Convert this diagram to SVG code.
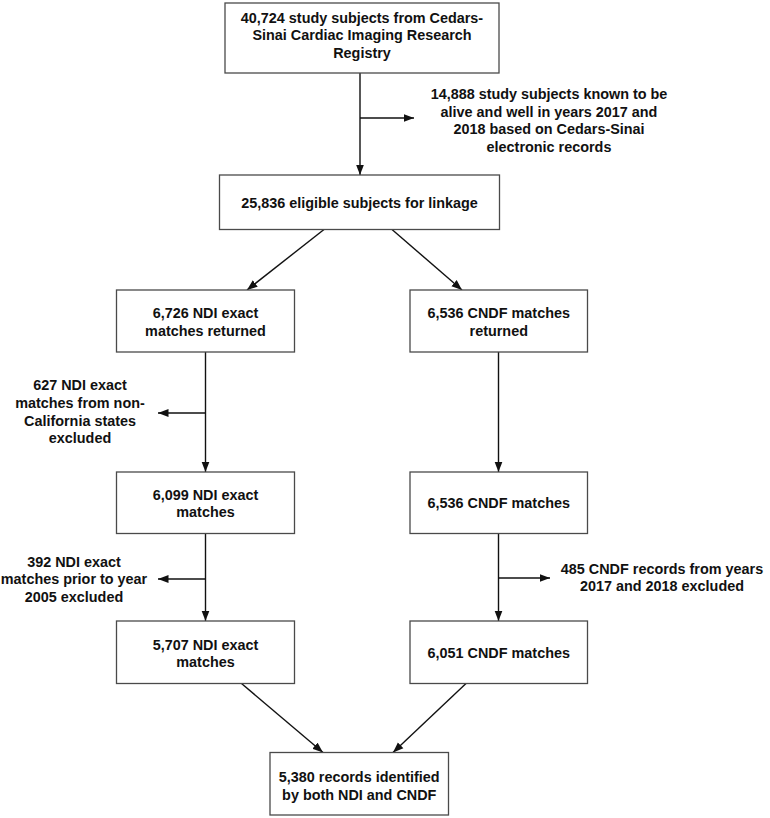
<svg xmlns="http://www.w3.org/2000/svg" width="770" height="818" viewBox="0 0 770 818">
  <defs>
    <marker id="ah" markerUnits="userSpaceOnUse" markerWidth="11" markerHeight="9" refX="10.5" refY="4.5" orient="auto">
      <path d="M0,0.5 L10.5,4.5 L0,8.5 z" fill="#111"/>
    </marker>
    <style>
      .box { fill: #fff; stroke: #4a4a4a; stroke-width: 1.3; }
      .t { font-family: "Liberation Sans", Arial, sans-serif; font-size: 14.4px; font-weight: bold; fill: #111; text-anchor: middle; }
      .c { fill: none; stroke: #111; stroke-width: 1.4; marker-end: url(#ah); }
    </style>
  </defs>
  <rect width="770" height="818" fill="#fff"/>

  <g id="connectors">
    <line class="c" x1="360" y1="73" x2="360" y2="175"/>
    <line class="c" x1="360" y1="118" x2="414" y2="118"/>
    <line class="c" x1="324" y1="229.5" x2="247" y2="290"/>
    <line class="c" x1="392" y1="229.5" x2="462" y2="290"/>
    <line class="c" x1="205.5" y1="352" x2="205.5" y2="472"/>
    <line class="c" x1="205.5" y1="413" x2="158" y2="413"/>
    <line class="c" x1="498.5" y1="352" x2="498.5" y2="472"/>
    <line class="c" x1="205.5" y1="533.5" x2="205.5" y2="621"/>
    <line class="c" x1="205.5" y1="579" x2="158" y2="579"/>
    <line class="c" x1="498.5" y1="533.5" x2="498.5" y2="621"/>
    <line class="c" x1="498.5" y1="578" x2="550" y2="578"/>
    <line class="c" x1="241.5" y1="683.5" x2="323" y2="752.5"/>
    <line class="c" x1="466" y1="683.5" x2="393" y2="752.5"/>
  </g>

  <g id="n-registry">
    <rect class="box" x="225" y="3" width="274" height="70"/>
    <text class="t" x="362" y="22.5">40,724 study subjects from Cedars-</text>
    <text class="t" x="362" y="40">Sinai Cardiac Imaging Research</text>
    <text class="t" x="362" y="57.5">Registry</text>
  </g>

  <g id="n-excl-alive">
    <text class="t" x="549" y="99">14,888 study subjects known to be</text>
    <text class="t" x="549" y="116.5">alive and well in years 2017 and</text>
    <text class="t" x="549" y="134">2018 based on Cedars-Sinai</text>
    <text class="t" x="549" y="151.5">electronic records</text>
  </g>

  <g id="n-eligible">
    <rect class="box" x="219.5" y="175" width="280" height="54.5"/>
    <text class="t" x="359.5" y="208">25,836 eligible subjects for linkage</text>
  </g>

  <g id="n-ndi1">
    <rect class="box" x="116.5" y="290" width="178" height="62"/>
    <text class="t" x="205.5" y="318">6,726 NDI exact</text>
    <text class="t" x="205.5" y="335.5">matches returned</text>
  </g>

  <g id="n-cndf1">
    <rect class="box" x="410" y="290" width="177.5" height="62"/>
    <text class="t" x="498.75" y="318">6,536 CNDF matches</text>
    <text class="t" x="498.75" y="335.5">returned</text>
  </g>

  <g id="n-excl-nonca">
    <text class="t" x="80" y="390">627 NDI exact</text>
    <text class="t" x="80" y="408">matches from non-</text>
    <text class="t" x="80" y="425.5">California states</text>
    <text class="t" x="80" y="443">excluded</text>
  </g>

  <g id="n-ndi2">
    <rect class="box" x="116.5" y="472" width="178" height="61.5"/>
    <text class="t" x="205.5" y="499.5">6,099 NDI exact</text>
    <text class="t" x="205.5" y="517">matches</text>
  </g>

  <g id="n-cndf2">
    <rect class="box" x="410" y="472" width="177.5" height="61.5"/>
    <text class="t" x="498.75" y="508">6,536 CNDF matches</text>
  </g>

  <g id="n-excl-2005">
    <text class="t" x="74" y="567">392 NDI exact</text>
    <text class="t" x="74" y="584">matches prior to year</text>
    <text class="t" x="74" y="601.5">2005 excluded</text>
  </g>

  <g id="n-excl-cndf">
    <text class="t" x="662" y="573.5">485 CNDF records from years</text>
    <text class="t" x="662" y="591">2017 and 2018 excluded</text>
  </g>

  <g id="n-ndi3">
    <rect class="box" x="116.5" y="621" width="178" height="62.5"/>
    <text class="t" x="205.5" y="649.5">5,707 NDI exact</text>
    <text class="t" x="205.5" y="667">matches</text>
  </g>

  <g id="n-cndf3">
    <rect class="box" x="410" y="621" width="177.5" height="62.5"/>
    <text class="t" x="498.75" y="658">6,051 CNDF matches</text>
  </g>

  <g id="n-both">
    <rect class="box" x="270" y="752.5" width="178.5" height="62.5"/>
    <text class="t" x="359.25" y="782">5,380 records identified</text>
    <text class="t" x="359.25" y="800">by both NDI and CNDF</text>
  </g>
</svg>
